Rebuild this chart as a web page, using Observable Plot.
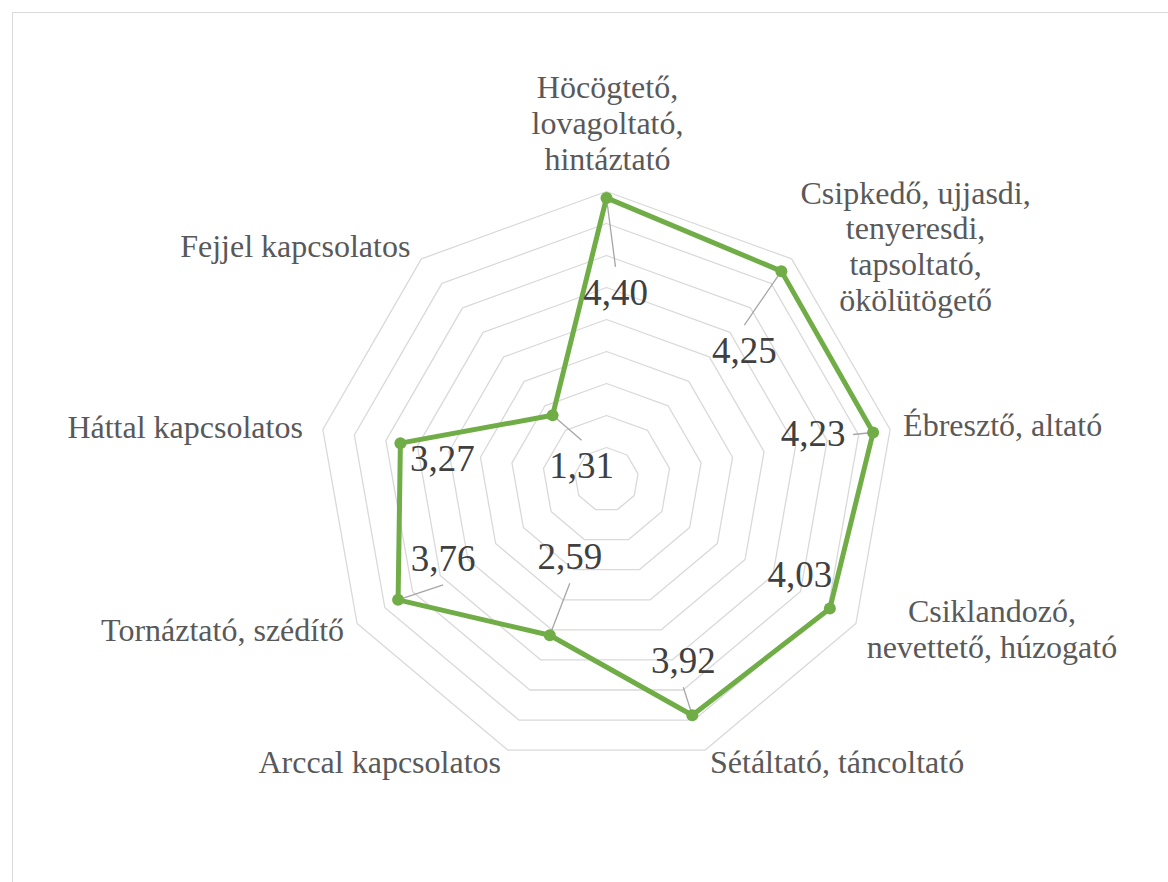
<!DOCTYPE html>
<html>
<head>
<meta charset="utf-8">
<script src="https://cdn.jsdelivr.net/npm/d3@7"></script>
<script src="https://cdn.jsdelivr.net/npm/@observablehq/plot@0.6"></script>
<style>
  html, body { margin: 0; padding: 0; background: #fff; overflow: hidden; }
  #wrap { position: relative; width: 1168px; height: 882px; overflow: hidden; }
  #border { position: absolute; left: 12px; top: 12px; width: 1300px; height: 1000px; border: 1px solid #d9d9d9; box-sizing: border-box; }
  #chart { position: absolute; left: 0; top: 0; }
  #chart svg, #chart svg text, #chart svg tspan { font-family: "Liberation Serif", "Times New Roman", "DejaVu Serif", serif !important; }
</style>
</head>
<body>
<div id="wrap"><div id="border"></div><div id="chart"></div></div>
<script>
// ---- data ----
const categories = [
  "Höcögtető,\nlovagoltató,\nhintáztató",
  "Csipkedő, ujjasdi,\ntenyeresdi,\ntapsoltató,\nökölütögető",
  "Ébresztő, altató",
  "Csiklandozó,\nnevettető, húzogató",
  "Sétáltató, táncoltató",
  "Arccal kapcsolatos",
  "Tornáztató, szédítő",
  "Háttal kapcsolatos",
  "Fejjel kapcsolatos"
];
const values = [4.40, 4.25, 4.23, 4.03, 3.92, 2.59, 3.76, 3.27, 1.31];
const gridLevels = [0.5, 1, 1.5, 2, 2.5, 3, 3.5, 4, 4.5];
const axisMax = 4.5;

// ---- layout / style (pixel offsets, not data) ----
const W = 1168, H = 882, CX = 606, CY = 479, K = 64; // px per unit
// data-label offsets from their point (px)
const valueLabelDx = [9, -37, -60, -30, -9, 20, 45, 42, 29];
const valueLabelDy = [95, 80, 2, -33, -54, -78, -41, 16, 51];
const showLeader = [true, true, true, false, true, true, true, false, true];
// category label offsets from outer ring vertex (px)
const catDx = [1, 124, 13, 136, 5, -7, -13, -20, -11];
const catDy = [-69, -13, -5, 5, 11, 11, 6, -3, -13];
const catAnchor = ["middle", "middle", "start", "middle", "start", "end", "end", "end", "end"];

const n = categories.length;
const ang = i => i * 2 * Math.PI / n;
const pol = (r, i) => ({x: r * Math.sin(ang(i)), y: r * Math.cos(ang(i))});
const fmt = v => v.toFixed(2).replace(".", ",");

const rings = gridLevels.flatMap(level =>
  d3.range(n + 1).map(i => ({level, ...pol(level, i % n)})));

const series = d3.range(n + 1).map(i => ({...pol(values[i % n], i % n)}));
const points = values.map((v, i) => ({value: v, ...pol(v, i)}));

const vlabels = points.map((p, i) => ({
  text: fmt(values[i]),
  x: p.x + valueLabelDx[i] / K,
  y: p.y - valueLabelDy[i] / K,
  px: p.x, py: p.y, show: showLeader[i]
}));
const hw = 40 / K, hh = 26 / K;
const leaders = vlabels.filter(d => d.show).map(d => {
  const ddx = d.px - d.x, ddy = d.py - d.y;
  let ex, ey;
  if (Math.abs(ddy) > hh) { ex = d.x; ey = d.y + Math.sign(ddy) * hh; }
  else { ex = d.x + Math.sign(ddx) * hw; ey = d.y; }
  return {x1: d.px, y1: d.py, x2: ex, y2: ey};
});

const catLabels = categories.map((c, i) => {
  const v = pol(axisMax, i);
  return {text: c, x: v.x + catDx[i] / K, y: v.y - catDy[i] / K, anchor: catAnchor[i]};
});

const serif = "Liberation Serif";

const chart = Plot.plot({
  width: W, height: H,
  margin: 0,
  style: {background: "transparent", fontFamily: "Liberation Serif, serif"},
  x: {domain: [-CX / K, (W - CX) / K], range: [0, W], axis: null},
  y: {domain: [-(H - CY) / K, CY / K], range: [H, 0], axis: null},
  marks: [
    Plot.line(rings, {x: "x", y: "y", z: "level", stroke: "#d9d9d9", strokeWidth: 1.3, curve: "linear"}),
    Plot.line(series, {x: "x", y: "y", stroke: "#70ad47", strokeWidth: 5, strokeLinejoin: "round"}),
    Plot.link(leaders, {x1: "x1", y1: "y1", x2: "x2", y2: "y2", stroke: "#a6a6a6", strokeWidth: 1.3}),
    Plot.dot(points, {x: "x", y: "y", r: 6, fill: "#70ad47", stroke: "none"}),
    Plot.text(vlabels, {x: "x", y: "y", text: "text", fontSize: 37, fontFamily: serif, fill: "#404040", lineAnchor: "middle", textAnchor: "middle"}),
    ...["middle", "start", "end"].map(a =>
      Plot.text(catLabels.filter(d => d.anchor === a), {
        x: "x", y: "y", text: "text", fontSize: 32, fontFamily: serif, fill: "#595959",
        lineAnchor: "middle", lineHeight: 1.12, textAnchor: a
      }))
  ]
});
document.getElementById("chart").appendChild(chart);
</script>
</body>
</html>
